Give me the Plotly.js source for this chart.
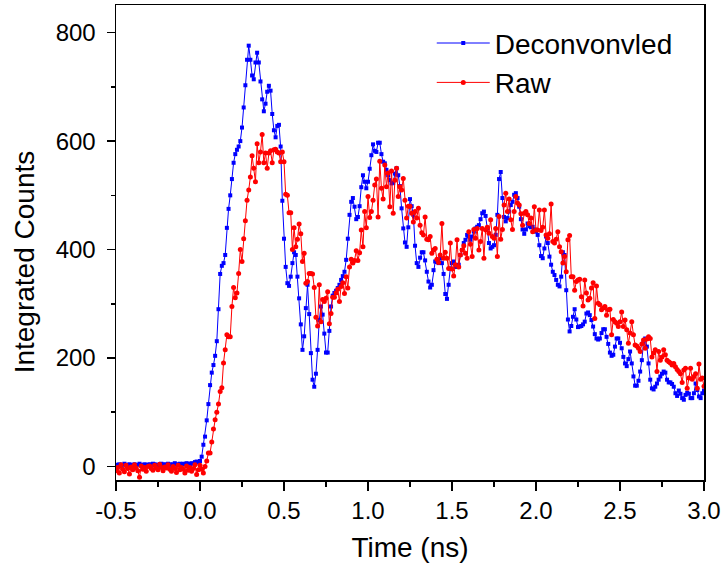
<!DOCTYPE html>
<html>
<head>
<meta charset="utf-8">
<script src="https://cdn.plot.ly/plotly-3.0.1.min.js"></script>
<style>html,body{margin:0;padding:0;background:#fff;}#chart{width:723px;height:567px;}</style>
</head>
<body>
<div id="chart"></div>
<script>
// Time axis: first sample and sample step (ns)
const t0 = -0.5;
const dt = 0.01;

// Deconvolved series (Integrated Counts), one value every 0.01 ns from -0.5 to 3.0 ns
const deconvolved = [
  3,2,4,1,3,5,2,3,4,2,
  3,4,2,3,5,3,2,4,3,3,
  4,3,5,4,3,2,4,5,3,4,
  3,5,4,3,4,6,4,3,5,4,
  5,4,6,5,4,6,5,8,9,7,
  10,18,40,55,85,115,150,173,187,204,
  231,290,355,370,375,390,440,475,500,530,
  560,576,584,590,600,625,662,703,750,776,
  750,721,714,745,763,745,710,677,655,669,
  691,702,693,650,620,607,628,630,590,490,
  420,368,338,333,350,375,395,390,350,310,
  262,215,240,292,335,281,209,160,147,171,
  215,270,295,280,245,210,210,250,295,315,
  320,324,329,335,344,351,359,381,420,464,
  488,495,479,456,460,480,515,537,525,513,
  525,549,574,594,582,580,597,597,576,562,
  559,547,537,528,522,523,540,550,537,517,
  476,439,413,405,441,493,480,464,407,375,
  368,385,395,395,380,359,341,330,335,362,
  378,377,375,384,375,355,318,309,335,365,
  375,378,368,368,372,390,399,412,418,427,
  424,418,424,433,439,442,445,456,467,470,
  462,439,412,402,405,408,427,464,530,543,
  495,460,452,458,470,482,488,501,504,495,
  479,456,437,429,437,448,443,441,442,437,
  433,427,408,388,384,402,424,412,387,372,
  359,353,344,335,332,350,395,390,325,271,
  249,259,276,290,271,257,258,259,262,267,
  282,284,279,270,258,244,236,234,236,246,
  253,253,239,226,210,204,206,221,236,236,
  228,218,202,190,185,198,212,190,166,149,
  149,158,175,196,228,236,221,190,160,144,
  142,147,153,160,166,171,175,173,160,155,
  155,152,147,135,130,140,134,126,123,132,
  136,134,126,126,135,153,141,129,126,135,
  140
];

// Raw series (Integrated Counts), same sampling
const raw = [
  -8,-2,-12,3,-5,-10,2,-4,-14,-1,
  -6,3,-3,-8,-20,1,-5,-2,-9,0,
  1,-4,-7,2,-3,-6,4,-2,-8,-1,
  -3,3,-5,-9,0,-4,-11,2,-6,-2,
  -5,-12,1,-7,-2,-9,-4,3,-15,-6,
  2,-5,-12,0,10,25,25,45,69,86,
  100,115,138,145,191,215,243,239,239,295,
  330,311,320,356,400,378,420,453,491,510,
  534,573,550,525,595,560,580,612,560,578,
  550,578,582,560,584,585,580,578,562,580,
  562,502,500,468,468,400,440,405,419,447,
  429,378,393,338,341,356,356,355,330,275,
  259,335,267,308,304,310,322,263,282,312,
  312,320,327,304,332,339,319,350,329,368,
  382,375,380,398,380,394,436,405,470,440,
  498,459,470,491,519,530,460,563,513,493,
  556,516,541,479,545,467,528,550,498,516,
  510,531,491,458,480,480,467,451,470,458,
  476,445,431,427,460,419,418,424,393,399,
  402,382,376,390,448,384,395,384,365,412,
  364,351,372,418,368,390,399,407,393,384,
  433,410,387,437,421,439,399,415,439,384,
  436,441,430,455,424,421,439,387,461,419,
  437,482,504,470,493,455,437,470,498,486,
  482,466,445,467,470,464,448,458,433,479,
  436,436,473,435,441,473,427,421,429,484,
  415,412,419,433,405,396,375,387,359,418,
  426,350,350,325,341,344,345,313,296,344,
  320,307,310,329,339,273,333,301,298,289,
  292,295,279,289,290,243,271,267,264,258,
  267,285,258,270,252,227,246,267,243,224,
  222,218,212,226,233,218,235,239,236,202,
  209,215,175,212,196,202,215,206,196,193,
  191,187,190,184,179,175,171,155,178,181,
  144,163,181,161,166,171,144,189,161,163,
  148
];

// Series names and axis titles
const seriesNames = ['Deconvonvled', 'Raw'];
const xTitle = 'Time (ns)';
const yTitle = 'Integrated Counts';

// Tick labels
const xTickVals = [-0.5, 0, 0.5, 1.0, 1.5, 2.0, 2.5, 3.0];
const xTickText = ['-0.5', '0.0', '0.5', '1.0', '1.5', '2.0', '2.5', '3.0'];
const xMinorVals = [-0.25, 0.25, 0.75, 1.25, 1.75, 2.25, 2.75];
const yTickVals = [0, 200, 400, 600, 800];
const yTickText = ['0', '200', '400', '600', '800'];
const yMinorVals = [100, 300, 500, 700];

const traces = [
  {
    type: 'scatter', mode: 'lines+markers', name: seriesNames[0],
    x0: t0, dx: dt, y: deconvolved,
    line: {color: '#0000ff', width: 1},
    marker: {symbol: 'square', size: 4, color: '#0000ff'}
  },
  {
    type: 'scatter', mode: 'lines+markers', name: seriesNames[1],
    x0: t0, dx: dt, y: raw,
    line: {color: '#ff0000', width: 1},
    marker: {symbol: 'circle', size: 5, color: '#ff0000'}
  }
];

const fontFam = '"Liberation Sans", Arial, Helvetica, sans-serif';

const layout = {
  width: 723, height: 567,
  margin: {l: 116, r: 19, t: 5, b: 87},
  paper_bgcolor: '#ffffff', plot_bgcolor: '#ffffff',
  font: {family: fontFam, color: '#000000', size: 24},
  showlegend: true,
  legend: {
    x: 0.537, y: 0.972, xanchor: 'left', yanchor: 'top',
    bgcolor: 'rgba(0,0,0,0)', borderwidth: 0, itemwidth: 53,
    font: {family: fontFam, size: 28, color: '#000'}
  },
  xaxis: {
    range: [-0.5, 3.0], tickmode: 'array', tickvals: xTickVals, ticktext: xTickText,
    ticks: 'outside', ticklen: 9, tickwidth: 1.5, tickcolor: '#000',
    showline: true, linewidth: 1.5, linecolor: '#000', mirror: true,
    showgrid: false, zeroline: false,
    tickfont: {size: 24}, ticklabelstandoff: 0,
    minor: {tickmode: 'array', tickvals: xMinorVals, ticks: 'outside', ticklen: 5, tickwidth: 1.5, tickcolor: '#000', showgrid: false},
    title: {text: xTitle, font: {size: 28}, standoff: 14},
    automargin: false
  },
  yaxis: {
    range: [-25, 851], tickmode: 'array', tickvals: yTickVals, ticktext: yTickText,
    ticks: 'outside', ticklen: 8, tickwidth: 1.5, tickcolor: '#000',
    showline: true, linewidth: 1.5, linecolor: '#000', mirror: true,
    showgrid: false, zeroline: false,
    tickfont: {size: 24}, ticklabelstandoff: 6,
    minor: {tickmode: 'array', tickvals: yMinorVals, ticks: 'outside', ticklen: 4, tickwidth: 1.5, tickcolor: '#000', showgrid: false},
    automargin: false
  },
  xaxis2: {
    overlaying: 'x', side: 'top', anchor: 'y', range: [0, 10],
    tickmode: 'linear', tick0: 0, dtick: 1, ticks: 'inside', ticklen: 3, tickwidth: 1, tickcolor: '#000',
    showticklabels: false, showline: false, showgrid: false, zeroline: false
  },
  yaxis2: {
    overlaying: 'y', side: 'right', anchor: 'x', range: [0, 10],
    tickmode: 'linear', tick0: 0, dtick: 1, ticks: 'outside', ticklen: 3, tickwidth: 1, tickcolor: '#000',
    showticklabels: false, showline: false, showgrid: false, zeroline: false
  },
  annotations: [
    {
      text: yTitle, textangle: -90, showarrow: false,
      xref: 'paper', yref: 'paper', x: -0.155, y: 0.46,
      xanchor: 'center', yanchor: 'middle',
      font: {family: fontFam, size: 28, color: '#000'}
    }
  ]
};

Plotly.newPlot('chart', traces, layout, {displayModeBar: false, staticPlot: true});
</script>
</body>
</html>
